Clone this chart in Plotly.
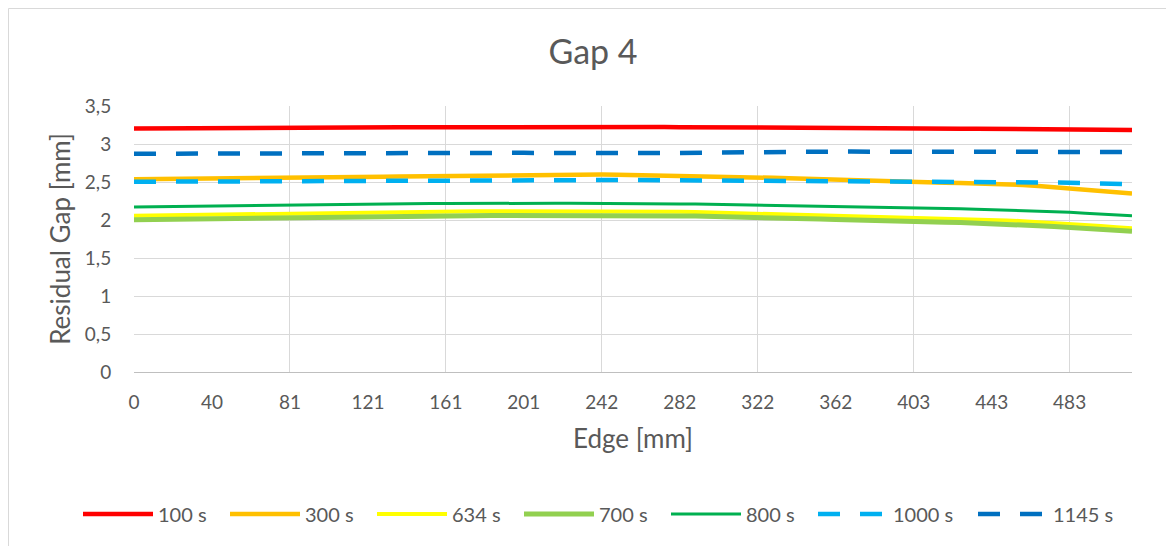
import plotly.graph_objects as go

# ---- data ----
edge_mm = [0, 8.05, 16.1, 24.15, 32.2, 40.25, 48.3, 56.35, 64.4, 72.45,
           80.5, 88.55, 96.6, 104.65, 112.7, 120.75, 128.8, 136.85, 144.9, 152.95,
           161.0, 169.05, 177.1, 185.15, 193.2, 201.25, 209.3, 217.35, 225.4, 233.45,
           241.5, 249.55, 257.6, 265.65, 273.7, 281.75, 289.8, 297.85, 305.9, 313.95,
           322.0, 330.05, 338.1, 346.15, 354.2, 362.25, 370.3, 378.35, 386.4, 394.45,
           402.5, 410.55, 418.6, 426.65, 434.7, 442.75, 450.8, 458.85, 466.9, 474.95,
           483.0, 491.05, 499.1, 507.15, 515.2]

tick_positions = [0, 40.25, 80.5, 120.75, 161.0, 201.25, 241.5, 281.75, 322.0,
                  362.25, 402.5, 442.75, 483.0]
tick_labels = ["0", "40", "81", "121", "161", "201", "242", "282", "322",
               "362", "403", "443", "483"]
grid_positions = [0, 80.5, 161.0, 241.5, 322.0, 402.5, 483.0]

s100 = [3.205, 3.205, 3.206, 3.206, 3.207, 3.207, 3.208, 3.209, 3.210, 3.211,
        3.212, 3.213, 3.214, 3.215, 3.216, 3.217, 3.218, 3.219, 3.220, 3.221,
        3.222, 3.223, 3.224, 3.225, 3.226, 3.227, 3.228, 3.228, 3.228, 3.228,
        3.228, 3.227, 3.226, 3.225, 3.224, 3.222, 3.220, 3.218, 3.216, 3.214,
        3.212, 3.211, 3.210, 3.209, 3.208, 3.207, 3.206, 3.206, 3.205, 3.205,
        3.204, 3.203, 3.202, 3.201, 3.200, 3.199, 3.198, 3.197, 3.196, 3.195,
        3.193, 3.191, 3.189, 3.187, 3.185]
s300 = [2.535, 2.538, 2.540, 2.542, 2.545, 2.547, 2.549, 2.551, 2.553, 2.555,
        2.557, 2.559, 2.561, 2.563, 2.565, 2.567, 2.569, 2.571, 2.574, 2.577,
        2.580, 2.583, 2.586, 2.589, 2.592, 2.595, 2.597, 2.599, 2.600, 2.600,
        2.599, 2.597, 2.594, 2.591, 2.587, 2.583, 2.579, 2.575, 2.571, 2.566,
        2.561, 2.555, 2.549, 2.542, 2.535, 2.528, 2.521, 2.514, 2.508, 2.503,
        2.499, 2.495, 2.491, 2.487, 2.483, 2.478, 2.472, 2.462, 2.448, 2.430,
        2.410, 2.394, 2.379, 2.363, 2.347]
s634 = [2.057, 2.060, 2.064, 2.067, 2.070, 2.074, 2.077, 2.080, 2.084, 2.087,
        2.090, 2.093, 2.096, 2.099, 2.102, 2.105, 2.108, 2.110, 2.112, 2.113,
        2.114, 2.115, 2.115, 2.116, 2.116, 2.117, 2.117, 2.118, 2.118, 2.118,
        2.118, 2.118, 2.117, 2.115, 2.112, 2.108, 2.104, 2.099, 2.094, 2.089,
        2.084, 2.079, 2.074, 2.069, 2.064, 2.059, 2.054, 2.050, 2.045, 2.041,
        2.036, 2.030, 2.024, 2.018, 2.012, 2.005, 1.995, 1.984, 1.973, 1.961,
        1.949, 1.935, 1.920, 1.905, 1.890]
s700 = [2.004, 2.007, 2.010, 2.013, 2.016, 2.019, 2.022, 2.025, 2.028, 2.031,
        2.034, 2.037, 2.040, 2.043, 2.046, 2.049, 2.052, 2.053, 2.054, 2.055,
        2.056, 2.057, 2.057, 2.058, 2.058, 2.059, 2.059, 2.060, 2.060, 2.060,
        2.060, 2.060, 2.059, 2.058, 2.056, 2.054, 2.051, 2.048, 2.045, 2.041,
        2.035, 2.030, 2.024, 2.018, 2.012, 2.006, 1.999, 1.993, 1.987, 1.982,
        1.978, 1.974, 1.970, 1.966, 1.961, 1.956, 1.946, 1.936, 1.925, 1.914,
        1.904, 1.891, 1.878, 1.864, 1.851]
s800 = [2.171, 2.174, 2.177, 2.180, 2.183, 2.186, 2.189, 2.192, 2.195, 2.198,
        2.201, 2.204, 2.207, 2.210, 2.213, 2.216, 2.218, 2.219, 2.219, 2.218,
        2.217, 2.216, 2.216, 2.217, 2.218, 2.219, 2.220, 2.220, 2.220, 2.220,
        2.220, 2.219, 2.218, 2.216, 2.214, 2.212, 2.210, 2.207, 2.204, 2.201,
        2.197, 2.194, 2.191, 2.188, 2.185, 2.182, 2.179, 2.176, 2.172, 2.168,
        2.164, 2.159, 2.154, 2.149, 2.143, 2.137, 2.130, 2.123, 2.116, 2.109,
        2.101, 2.090, 2.079, 2.068, 2.057]
s1000 = [2.503, 2.504, 2.505, 2.507, 2.508, 2.510, 2.512, 2.514, 2.516, 2.518,
         2.520, 2.521, 2.522, 2.523, 2.524, 2.525, 2.526, 2.527, 2.528, 2.529,
         2.530, 2.530, 2.530, 2.530, 2.530, 2.530, 2.530, 2.529, 2.529, 2.528,
         2.527, 2.526, 2.526, 2.525, 2.525, 2.524, 2.524, 2.523, 2.523, 2.522,
         2.522, 2.521, 2.521, 2.520, 2.520, 2.519, 2.518, 2.517, 2.516, 2.515,
         2.514, 2.512, 2.510, 2.508, 2.506, 2.504, 2.502, 2.500, 2.497, 2.494,
         2.491, 2.486, 2.481, 2.476, 2.471]
s1145 = [2.872, 2.873, 2.874, 2.875, 2.876, 2.877, 2.878, 2.879, 2.880, 2.881,
         2.882, 2.883, 2.884, 2.885, 2.886, 2.887, 2.888, 2.889, 2.890, 2.890,
         2.889, 2.888, 2.887, 2.886, 2.885, 2.884, 2.882, 2.880, 2.878, 2.877,
         2.876, 2.876, 2.877, 2.878, 2.880, 2.883, 2.886, 2.889, 2.892, 2.894,
         2.895, 2.896, 2.897, 2.898, 2.899, 2.900, 2.900, 2.900, 2.900, 2.900,
         2.900, 2.900, 2.900, 2.900, 2.900, 2.899, 2.899, 2.898, 2.898, 2.897,
         2.897, 2.896, 2.896, 2.895, 2.895]

series_names = ["100 s", "300 s", "634 s", "700 s", "800 s", "1000 s", "1145 s"]
series_values = [s100, s300, s634, s700, s800, s1000, s1145]
series_colors = ["#FF0000", "#FFC000", "#FFFF00", "#92D050", "#00B050", "#00B0F0", "#0070C0"]
series_widths = [4.5, 4.5, 4, 5, 3, 4.5, 4.5]
series_dash = ["solid", "solid", "solid", "solid", "solid", "22px,20px", "22px,20px"]
legend_text_widths = [62, 62, 62, 62, 62, 75, 62]

FONT = "Lato, 'Open Sans', sans-serif"
TXT = "#595959"
GRID = "#D9D9D9"

fig = go.Figure()
for name, vals, col, w, d, lw in zip(series_names, series_values, series_colors,
                                     series_widths, series_dash, legend_text_widths):
    fig.add_trace(go.Scatter(x=edge_mm, y=vals, name=name, mode="lines",
                             legendwidth=lw,
                             line=dict(color=col, width=w, dash=d)))

# helper trace so that the grid axis exists
fig.add_trace(go.Scatter(x=[None], y=[None], xaxis="x2", showlegend=False,
                         hoverinfo="skip"))

# page is offset by the 8px default body margin
OFF = 8
W, H = 1174, 546
L, T = 134 - OFF, 106 - OFF
pw, ph = 998, 266
R, B = W - L - pw, H - T - ph

fig.update_layout(
    width=W, height=H,
    margin=dict(l=L, r=R, t=T, b=B),
    paper_bgcolor="white", plot_bgcolor="white",
    separators=",.",
    font=dict(family=FONT, color=TXT, size=19),
    title=dict(text="Gap 4", x=(593 - OFF) / W, xref="container", xanchor="center",
               y=1 - (52 - OFF) / H, yref="container", yanchor="middle",
               font=dict(size=34, color=TXT, family=FONT)),
    xaxis=dict(range=[0, 515.2], tickmode="array", tickvals=tick_positions,
               ticktext=tick_labels, showgrid=False, zeroline=False,
               showline=True, linecolor="#BFBFBF", linewidth=1,
               ticks="outside", ticklen=13, tickcolor="rgba(0,0,0,0)",
               tickfont=dict(size=19, color=TXT),
               title=dict(text="Edge [mm]", font=dict(size=26, color=TXT), standoff=18)),
    xaxis2=dict(range=[0, 515.2], overlaying="x", anchor="y", side="bottom",
                tickmode="array", tickvals=grid_positions, showticklabels=False,
                showgrid=True, gridcolor=GRID, gridwidth=1, zeroline=False,
                ticks="", showline=False),
    yaxis=dict(range=[0, 3.5], tickmode="array",
               tickvals=[0, 0.5, 1, 1.5, 2, 2.5, 3, 3.5],
               showgrid=True, gridcolor=GRID, gridwidth=1, zeroline=False,
               ticks="outside", ticklen=18, tickcolor="rgba(0,0,0,0)",
               tickfont=dict(size=19, color=TXT),
               title=dict(text="Residual Gap [mm]", font=dict(size=26, color=TXT), standoff=6)),
    legend=dict(orientation="h", x=(70 - L) / pw, xref="paper", xanchor="left",
                y=((H - B) - (514 - OFF)) / ph, yref="paper", yanchor="middle",
                font=dict(size=20, color=TXT), itemwidth=70,
                traceorder="normal", bgcolor="rgba(0,0,0,0)"),
    showlegend=True,
)

# chart-area border (visible on left and top)
bx = (0.5 - L) / pw
by = (H - B - 0.5) / ph
fig.add_shape(type="line", xref="paper", yref="paper", x0=bx, x1=bx, y0=-2, y1=by,
              line=dict(color=GRID, width=1))
fig.add_shape(type="line", xref="paper", yref="paper", x0=bx, x1=3, y0=by, y1=by,
              line=dict(color=GRID, width=1))

fig.write_html("out.html")
